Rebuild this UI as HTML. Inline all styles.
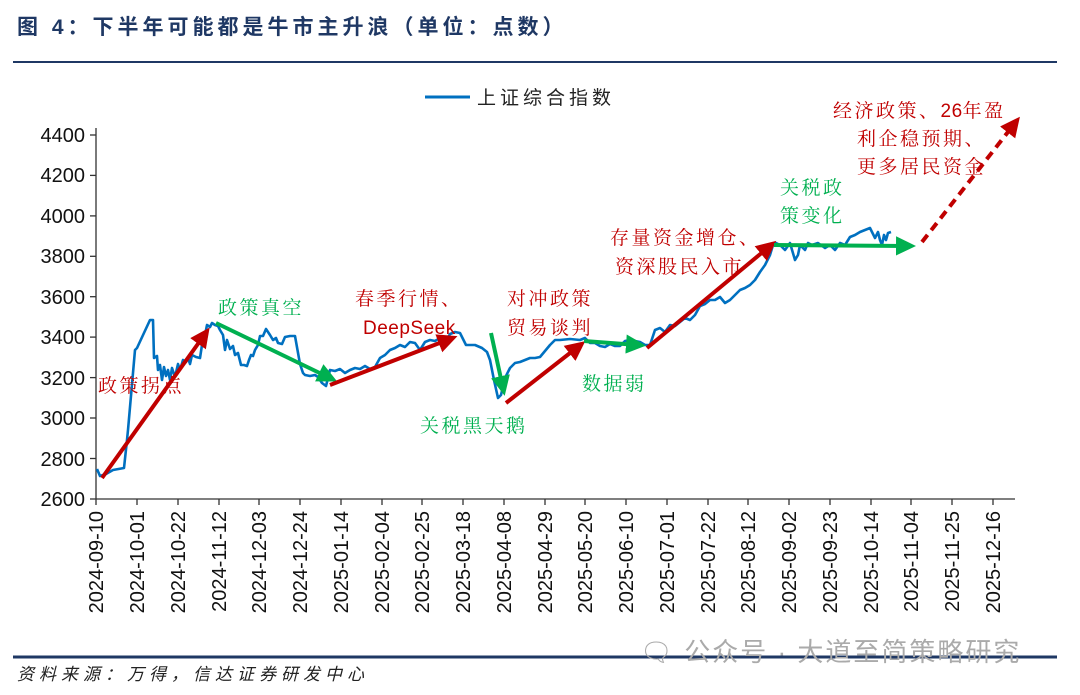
<!DOCTYPE html>
<html><head><meta charset="utf-8"><style>
body{margin:0;background:#fff;width:1080px;height:695px;overflow:hidden}
svg{display:block}
text{font-family:"Liberation Sans","Noto Sans CJK SC",sans-serif}
.s{font-family:"Noto Serif CJK SC",serif;font-size:19px;letter-spacing:2.5px}
.r{fill:#c00000}.g{fill:#00b050}
</style></head><body>
<svg width="1080" height="695" viewBox="0 0 1080 695">
<defs>
<marker id="ar" markerWidth="6" markerHeight="6" refX="3" refY="3" orient="auto" markerUnits="strokeWidth"><path d="M0,0.6 L5,3 L0,5.4 z" fill="#c00000"/></marker>
<marker id="ag" markerWidth="6" markerHeight="6" refX="3" refY="3" orient="auto" markerUnits="strokeWidth"><path d="M0,0.6 L5,3 L0,5.4 z" fill="#00b050"/></marker>
</defs>
<text x="17" y="34" font-size="21" font-weight="bold" fill="#1f3864" letter-spacing="4">图 4：下半年可能都是牛市主升浪（单位：点数）</text>
<line x1="13" y1="62" x2="1057" y2="62" stroke="#1f3864" stroke-width="2"/>
<line x1="13" y1="657" x2="1057" y2="657" stroke="#1f3864" stroke-width="3"/>
<text x="17" y="680" font-size="17" fill="#222" font-style="italic" letter-spacing="5" font-family="'Noto Serif CJK SC',serif">资料来源：万得，信达证券研发中心</text>
<text x="640" y="661" font-size="26" fill="#aaa" letter-spacing="2">🗨 公众号 · 大道至简策略研究</text>
<!-- legend -->
<line x1="425" y1="97" x2="470" y2="97" stroke="#0070c0" stroke-width="3"/>
<text x="477" y="104" font-size="19" fill="#222" letter-spacing="4" font-family="'Noto Serif CJK SC',serif">上证综合指数</text>
<!-- axes -->
<g stroke="#333" stroke-width="1.3">
<line x1="96" y1="128" x2="96" y2="499"/>
<line x1="96" y1="499" x2="1015" y2="499"/>
<line x1="90" y1="135" x2="96" y2="135"/><line x1="90" y1="175.4" x2="96" y2="175.4"/><line x1="90" y1="215.9" x2="96" y2="215.9"/><line x1="90" y1="256.3" x2="96" y2="256.3"/><line x1="90" y1="296.7" x2="96" y2="296.7"/><line x1="90" y1="337.1" x2="96" y2="337.1"/><line x1="90" y1="377.6" x2="96" y2="377.6"/><line x1="90" y1="418" x2="96" y2="418"/><line x1="90" y1="458.5" x2="96" y2="458.5"/><line x1="90" y1="499" x2="96" y2="499"/>
</g>
<g font-size="20" fill="#111" text-anchor="end">
<text x="85" y="142">4400</text><text x="85" y="182">4200</text><text x="85" y="223">4000</text><text x="85" y="263">3800</text><text x="85" y="304">3600</text><text x="85" y="344">3400</text><text x="85" y="385">3200</text><text x="85" y="425">3000</text><text x="85" y="466">2800</text><text x="85" y="506">2600</text>
</g>
<g font-size="20" fill="#111" text-anchor="end">
<text transform="translate(103,511) rotate(-90)">2024-09-10</text>
<text transform="translate(144,511) rotate(-90)">2024-10-01</text>
<text transform="translate(185,511) rotate(-90)">2024-10-22</text>
<text transform="translate(226,511) rotate(-90)">2024-11-12</text>
<text transform="translate(266,511) rotate(-90)">2024-12-03</text>
<text transform="translate(307,511) rotate(-90)">2024-12-24</text>
<text transform="translate(348,511) rotate(-90)">2025-01-14</text>
<text transform="translate(389,511) rotate(-90)">2025-02-04</text>
<text transform="translate(429,511) rotate(-90)">2025-02-25</text>
<text transform="translate(470,511) rotate(-90)">2025-03-18</text>
<text transform="translate(511,511) rotate(-90)">2025-04-08</text>
<text transform="translate(552,511) rotate(-90)">2025-04-29</text>
<text transform="translate(592,511) rotate(-90)">2025-05-20</text>
<text transform="translate(633,511) rotate(-90)">2025-06-10</text>
<text transform="translate(674,511) rotate(-90)">2025-07-01</text>
<text transform="translate(715,511) rotate(-90)">2025-07-22</text>
<text transform="translate(755,511) rotate(-90)">2025-08-12</text>
<text transform="translate(796,511) rotate(-90)">2025-09-02</text>
<text transform="translate(837,511) rotate(-90)">2025-09-23</text>
<text transform="translate(878,511) rotate(-90)">2025-10-14</text>
<text transform="translate(918,511) rotate(-90)">2025-11-04</text>
<text transform="translate(959,511) rotate(-90)">2025-11-25</text>
<text transform="translate(1000,511) rotate(-90)">2025-12-16</text>
</g>
<g stroke="#333" stroke-width="1.3">
<path d="M96,499v6M137,499v6M178,499v6M219,499v6M259,499v6M300,499v6M341,499v6M382,499v6M422,499v6M463,499v6M504,499v6M545,499v6M585,499v6M626,499v6M667,499v6M708,499v6M748,499v6M789,499v6M830,499v6M871,499v6M911,499v6M952,499v6M993,499v6"/>
</g>
<!-- series -->
<polyline fill="none" stroke="#0070c0" stroke-width="2.6" stroke-linejoin="round" points="97,469 100,476 106,474 113,470 124,468 127,440 128,430 135,350 137,348 150,320 153,320 154,358 157,356 158,370 160,365 162,380 164,367 166,376 168,370 170,380 172,368 175,377 178,364 180,370 183,360 186,362 188,358 190,364 192,355 196,357 200,358 202,345 205,335 207,325 210,327 212,323 215,325 218,326 220,330 223,335 225,350 227,340 230,349 233,346 235,355 238,353 241,365 244,365 247,366 249,360 251,355 253,356 255,350 258,345 260,336 263,336 266,329 270,335 273,340 276,338 278,343 282,344 285,337 290,336 295,336 300,364 303,373 305,375 310,376 315,375 318,377 322,383 326,386 330,370 335,371 340,369 345,373 350,370 355,368 360,369 365,366 370,369 375,367 380,358 385,355 390,350 395,348 400,345 405,347 410,342 415,343 420,350 425,342 430,340 435,341 440,338 445,343 450,334 455,332 460,333 466,345 470,345 475,345 482,348 487,352 490,360 494,380 498,398 501,395 505,378 510,368 515,363 520,362 525,360 530,358 535,358 540,357 550,345 555,340 560,340 570,339 580,340 585,338 590,343 595,343 600,346 605,347 610,344 615,346 620,346 625,341 630,340 635,341 640,342 645,345 650,345 655,330 660,328 665,332 670,325 675,326 680,322 685,318 690,320 695,315 700,306 705,304 710,300 715,300 720,297 725,303 730,300 735,295 740,290 745,288 750,285 755,280 760,272 765,265 770,255 773,245 776,243 780,245 785,250 790,243 795,260 798,255 800,245 805,250 808,243 812,245 818,243 825,248 830,245 835,250 840,243 845,245 850,237 855,235 860,232 865,230 870,228 872,232 875,238 878,232 880,240 882,245 884,235 886,240 888,233 891,232"/>
<!-- arrows -->
<g stroke-width="4" fill="none">
<line x1="102" y1="478" x2="205" y2="334" stroke="#c00000" marker-end="url(#ar)"/>
<line x1="216" y1="323" x2="330" y2="378" stroke="#00b050" marker-end="url(#ag)"/>
<line x1="330" y1="385" x2="450" y2="339" stroke="#c00000" marker-end="url(#ar)"/>
<line x1="491" y1="333" x2="503" y2="388" stroke="#00b050" marker-end="url(#ag)"/>
<line x1="506" y1="403" x2="579" y2="346" stroke="#c00000" marker-end="url(#ar)"/>
<line x1="584" y1="341" x2="638" y2="345" stroke="#00b050" marker-end="url(#ag)"/>
<line x1="647" y1="348" x2="770" y2="246" stroke="#c00000" marker-end="url(#ar)"/>
<line x1="774" y1="245" x2="908" y2="246" stroke="#00b050" marker-end="url(#ag)"/>
<line x1="922" y1="242" x2="1015" y2="123" stroke="#c00000" stroke-dasharray="9,6" marker-end="url(#ar)"/>
</g>
<!-- annotations -->
<text class="s r" x="98" y="392">政策拐点</text>
<text class="s g" x="218" y="314">政策真空</text>
<text class="s r" x="355" y="305">春季行情、</text>
<text class="s r" x="363" y="334" style="font-family:'Liberation Sans',sans-serif;letter-spacing:0.5px">DeepSeek</text>
<text class="s r" x="507" y="305">对冲政策</text>
<text class="s r" x="507" y="334">贸易谈判</text>
<text class="s g" x="420" y="432">关税黑天鹅</text>
<text class="s g" x="582" y="390">数据弱</text>
<text class="s r" x="610" y="244">存量资金增仓、</text>
<text class="s r" x="615" y="273">资深股民入市</text>
<text class="s g" x="780" y="194">关税政</text>
<text class="s g" x="780" y="222">策变化</text>
<text class="s r" x="833" y="117">经济政策、<tspan style="font-family:'Liberation Sans',sans-serif;letter-spacing:0.5px">26</tspan>年盈</text>
<text class="s r" x="857" y="145">利企稳预期、</text>
<text class="s r" x="857" y="173">更多居民资金</text>
</svg>
</body></html>
